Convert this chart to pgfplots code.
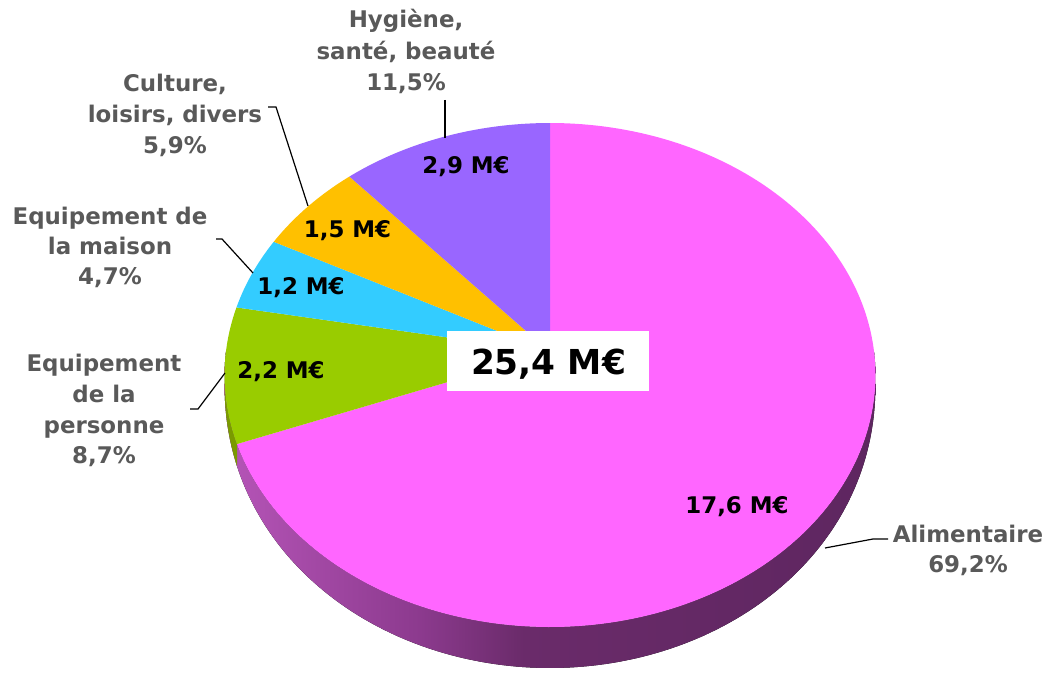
\documentclass[border=0pt]{standalone}
\usepackage{fontspec}
\setmainfont{DejaVu Sans}
\usepackage{pgfplots}
\pgfplotsset{compat=1.18}
\usepgfplotslibrary{fillbetween}
\definecolor{cPink}{HTML}{FF66FF}
\definecolor{cGreen}{HTML}{99CC00}
\definecolor{cBlue}{HTML}{33CCFF}
\definecolor{cYellow}{HTML}{FFC000}
\definecolor{cPurple}{HTML}{9966FF}
\definecolor{cGreenWall}{HTML}{7A9A00}
\definecolor{w0}{HTML}{B655B8}
\definecolor{w1}{HTML}{8C3A8E}
\definecolor{w2}{HTML}{6A2B6A}
\definecolor{w3}{HTML}{5E2660}
\definecolor{lblgray}{HTML}{595959}
\pgfdeclarehorizontalshading{wallshade}{100bp}{color(0bp)=(w0); color(25bp)=(w0); color(40bp)=(w1); color(48bp)=(w2); color(75bp)=(w3); color(100bp)=(w3)}
% shares in percent
\def\vA{69.2}% Alimentaire
\def\vB{8.7}% Equipement de la personne
\def\vC{4.7}% Equipement de la maison
\def\vD{5.9}% Culture, loisirs, divers
\def\vE{11.5}% Hygiene, sante, beaute
\pgfmathsetmacro\aA{90-3.6*\vA}
\pgfmathsetmacro\aB{\aA-3.6*\vB}
\pgfmathsetmacro\aC{\aB-3.6*\vC}
\pgfmathsetmacro\aD{\aC-3.6*\vD}
\pgfmathsetmacro\aE{\aD-3.6*\vE}
\begin{document}%
\begin{tikzpicture}[
  lab/.style={font=\fontsize{23}{28}\selectfont\bfseries, inner sep=0pt, anchor=base},
  glab/.style={lab, text=lblgray},
]
\begin{axis}[
  scale only axis, width=1062bp, height=672bp,
  xmin=0, xmax=1062, ymin=0, ymax=672,
  hide axis, clip=false,
  declare function={
    px(\t)=550+324.1*cos(\t)/(1+0.0913*sin(\t));
    py(\t)=320+249.9*sin(\t)/(1+0.0913*sin(\t));
    pz(\t)=41*pow(max(-sin(\t),0.0001),0.6);
  },
]
\coordinate (BL) at (axis cs:0,0);
\coordinate (TR) at (axis cs:1062,672);
% side wall
\addplot[draw=none, name path=wt, domain=-180:0, samples=150] ({px(x)},{py(x)});
\addplot[draw=none, name path=wb, domain=-180:0, samples=150] ({px(x)},{py(x)-pz(x)});
\addplot[shade, shading=wallshade, draw=none] fill between[of=wt and wb];
\addplot[draw=none, name path=gt, domain=-180:\aA, samples=30] ({px(x)},{py(x)});
\addplot[draw=none, name path=gb, domain=-180:\aA, samples=30] ({px(x)},{py(x)-pz(x)});
\addplot[fill=cGreenWall, draw=none] fill between[of=gt and gb];
% top face slices
\addplot[fill=cPink, draw=none, domain=\aA:90, samples=200] ({px(x)},{py(x)}) -- (axis cs:550,320) -- cycle;
\addplot[fill=cGreen, draw=none, domain=\aB:\aA, samples=40] ({px(x)},{py(x)}) -- (axis cs:550,320) -- cycle;
\addplot[fill=cBlue, draw=none, domain=\aC:\aB, samples=30] ({px(x)},{py(x)}) -- (axis cs:550,320) -- cycle;
\addplot[fill=cYellow, draw=none, domain=\aD:\aC, samples=30] ({px(x)},{py(x)}) -- (axis cs:550,320) -- cycle;
\addplot[fill=cPurple, draw=none, domain=\aE:\aD, samples=50] ({px(x)},{py(x)}) -- (axis cs:550,320) -- cycle;
% leader lines
\addplot[black, line width=1.2bp] coordinates {(445,572) (445,534)};
\addplot[black, line width=1.2bp] coordinates {(268,565) (276,565) (308,466)};
\addplot[black, line width=1.2bp] coordinates {(216,433) (222,433) (253,399)};
\addplot[black, line width=1.2bp] coordinates {(190,263) (198,263) (225,299)};
\addplot[black, line width=1.2bp] coordinates {(888,133) (873,133) (825,124)};
% centre box
\addplot[fill=white, draw=none] coordinates {(447,281) (649,281) (649,341) (447,341)} -- cycle;
\node[lab, font=\fontsize{34.5}{40}\selectfont\bfseries] at (axis cs:548.5,297) {25,4 M€};
% inner labels
\node[lab] at (axis cs:466,498) {2,9 M€};
\node[lab] at (axis cs:347.5,434) {1,5 M€};
\node[lab] at (axis cs:301,377) {1,2 M€};
\node[lab] at (axis cs:281,293) {2,2 M€};
\node[lab] at (axis cs:737,159) {17,6 M€};
% outer labels
\node[glab] at (axis cs:406,644) {Hygiène,};
\node[glab] at (axis cs:406,612) {santé, beauté};
\node[glab] at (axis cs:406,581.5) {11,5\%};
\node[glab] at (axis cs:175,580) {Culture,};
\node[glab] at (axis cs:175,549) {loisirs, divers};
\node[glab] at (axis cs:175,518) {5,9\%};
\node[glab] at (axis cs:110,447) {Equipement de};
\node[glab] at (axis cs:110,417) {la maison};
\node[glab] at (axis cs:110,387) {4,7\%};
\node[glab] at (axis cs:104,300) {Equipement};
\node[glab] at (axis cs:104,269.5) {de la};
\node[glab] at (axis cs:104,239) {personne};
\node[glab] at (axis cs:104,208.5) {8,7\%};
\node[glab] at (axis cs:968,130) {Alimentaire};
\node[glab] at (axis cs:968,100) {69,2\%};
\end{axis}
\pgfresetboundingbox
\useasboundingbox (BL) rectangle (TR);
\end{tikzpicture}%
\end{document}
